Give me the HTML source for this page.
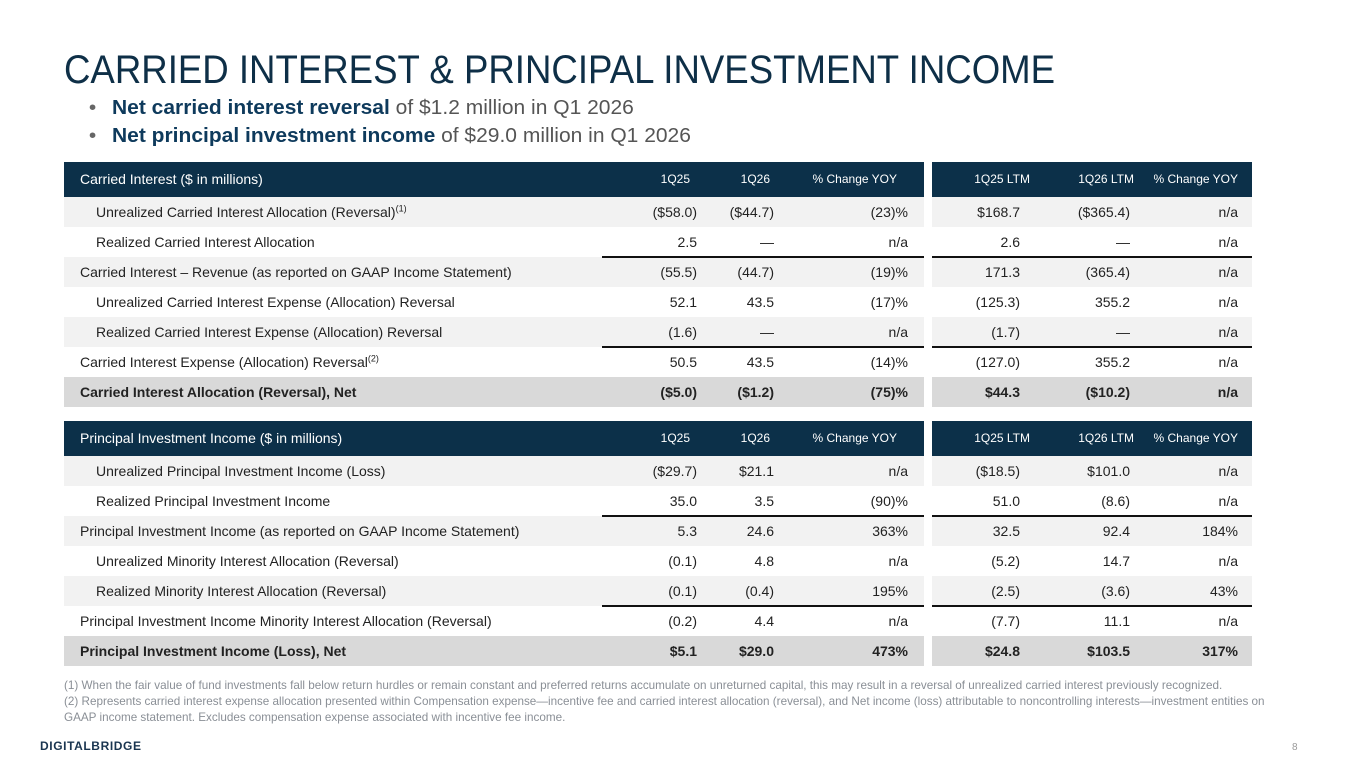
<!DOCTYPE html>
<html><head><meta charset="utf-8">
<style>
body{margin:0;width:1365px;height:768px;background:#fff;position:relative;overflow:hidden;font-family:"Liberation Sans",sans-serif;}
#title{position:absolute;left:64px;top:48px;font-size:40px;color:#0e2f47;white-space:nowrap;transform:scaleX(0.915);transform-origin:left top;}
.bul{position:absolute;left:112px;font-size:20px;color:#555;white-space:nowrap;transform:scaleX(1.05);transform-origin:left top;}
.bul b{color:#0e3a5c;}
.bul:before{content:"•";position:absolute;left:-22px;color:#666;}
.row{position:absolute;height:30px;font-size:14px;color:#222;}
.cell{position:absolute;top:0;height:100%;line-height:30px;white-space:nowrap;}
.hd{background:#0c3049;color:#fff;height:35px;}
.hd .cell{line-height:35px;font-size:12px;}
.hd .lab{font-size:14px;}
.sh{background:#f2f2f2;}
.net{background:#d9d9d9;font-weight:bold;}
.ln{position:absolute;height:2px;background:#111;}
.fn{position:absolute;left:64px;font-size:11.7px;color:#8a8f96;line-height:16px;width:1225px;}
sup{font-size:9px;line-height:0;}
</style></head><body>
<div id="title">CARRIED INTEREST &amp; PRINCIPAL INVESTMENT INCOME</div>
<div class="bul" style="top:97px"><b>Net carried interest reversal</b> of $1.2 million in Q1 2026</div>
<div class="bul" style="top:125px"><b>Net principal investment income</b> of $29.0 million in Q1 2026</div>
<div id="tables"></div>
<div class="fn" style="top:678px">(1) When the fair value of fund investments fall below return hurdles or remain constant and preferred returns accumulate on unreturned capital, this may result in a reversal of unrealized carried interest previously recognized.<br>(2) Represents carried interest expense allocation presented within Compensation expense—incentive fee and carried interest allocation (reversal), and Net income (loss) attributable to noncontrolling interests—investment entities on GAAP income statement. Excludes compensation expense associated with incentive fee income.</div>
<div style="position:absolute;left:40px;top:739px;font-size:12px;font-weight:bold;letter-spacing:0.6px;color:#1a3550">DIGITALBRIDGE</div>
<div style="position:absolute;left:1292px;top:742px;font-size:10px;color:#999">8</div>
<script>
const headers1=["Carried Interest ($ in millions)","1Q25","1Q26","% Change YOY","1Q25 LTM","1Q26 LTM","% Change YOY"];
const rows1=[
["Unrealized Carried Interest Allocation (Reversal)<sup>(1)</sup>",1,"($58.0)","($44.7)","(23)%","$168.7","($365.4)","n/a","sh"],
["Realized Carried Interest Allocation",1,"2.5","—","n/a","2.6","—","n/a",""],
["Carried Interest – Revenue (as reported on GAAP Income Statement)",0,"(55.5)","(44.7)","(19)%","171.3","(365.4)","n/a","sh line"],
["Unrealized Carried Interest Expense (Allocation) Reversal",1,"52.1","43.5","(17)%","(125.3)","355.2","n/a",""],
["Realized Carried Interest Expense (Allocation) Reversal",1,"(1.6)","—","n/a","(1.7)","—","n/a","sh"],
["Carried Interest Expense (Allocation) Reversal<sup>(2)</sup>",0,"50.5","43.5","(14)%","(127.0)","355.2","n/a","line"],
["Carried Interest Allocation (Reversal), Net",0,"($5.0)","($1.2)","(75)%","$44.3","($10.2)","n/a","net"]];
const headers2=["Principal Investment Income ($ in millions)","1Q25","1Q26","% Change YOY","1Q25 LTM","1Q26 LTM","% Change YOY"];
const rows2=[
["Unrealized Principal Investment Income (Loss)",1,"($29.7)","$21.1","n/a","($18.5)","$101.0","n/a","sh"],
["Realized Principal Investment Income",1,"35.0","3.5","(90)%","51.0","(8.6)","n/a",""],
["Principal Investment Income (as reported on GAAP Income Statement)",0,"5.3","24.6","363%","32.5","92.4","184%","sh line"],
["Unrealized Minority Interest Allocation (Reversal)",1,"(0.1)","4.8","n/a","(5.2)","14.7","n/a",""],
["Realized Minority Interest Allocation (Reversal)",1,"(0.1)","(0.4)","195%","(2.5)","(3.6)","43%","sh"],
["Principal Investment Income Minority Interest Allocation (Reversal)",0,"(0.2)","4.4","n/a","(7.7)","11.1","n/a","line"],
["Principal Investment Income (Loss), Net",0,"$5.1","$29.0","473%","$24.8","$103.5","317%","net"]];
const valR=[697,774,908,1020,1130,1238];
const hdR=[690,770,897,1030,1134,1238];
const root=document.getElementById('tables');
function mkRow(cls,top,left,w,h){const r=document.createElement('div');r.className='row '+cls;r.style.top=top+'px';r.style.left=left+'px';r.style.width=w+'px';if(h)r.style.height=h+'px';root.appendChild(r);return r;}
function cell(r,html,x,right,offset){const c=document.createElement('div');c.className='cell';c.innerHTML=html;if(right){c.style.right=(offset-x)+'px';c.style.textAlign='right';}else c.style.left=x+'px';r.appendChild(c);return c;}
function table(headers,rows,top,key){
 const hl=mkRow('hd',top,64,860);
 
 
 const hr=mkRow('hd',top,932,320);
 
 
 const l=cell(hl,headers[0],16,false);l.classList.add('lab');
 for(let i=1;i<7;i++){ if(i<=3) cell(hl,headers[i],hdR[i-1]-64,true,860); else cell(hr,headers[i],hdR[i-1]-932,true,320);}
 rows.forEach((rw,j)=>{
  const y=top+35+j*30;const cls=rw[8].replace('line','');
  const a=mkRow(cls,y,64,860);
  
  
  const b=mkRow(cls,y,932,320);
  
  
  cell(a,rw[0],rw[1]?32:16,false);
  for(let i=0;i<6;i++){ if(i<3) cell(a,rw[2+i],valR[i]-64,true,860); else cell(b,rw[2+i],valR[i]-932,true,320);}
  if(rw[8].indexOf('line')>=0){
   const l1=document.createElement('div');l1.className='ln';l1.style.left='602px';l1.style.width='322px';l1.style.top=(y-1)+'px';root.appendChild(l1);
   
   
   const l2=document.createElement('div');l2.className='ln';l2.style.left='932px';l2.style.width='320px';l2.style.top=(y-1)+'px';root.appendChild(l2);
   
   
  }
 });
}
table(headers1,rows1,162,'carried-interest');
table(headers2,rows2,421,'principal-investment');
</script>
</body></html>
